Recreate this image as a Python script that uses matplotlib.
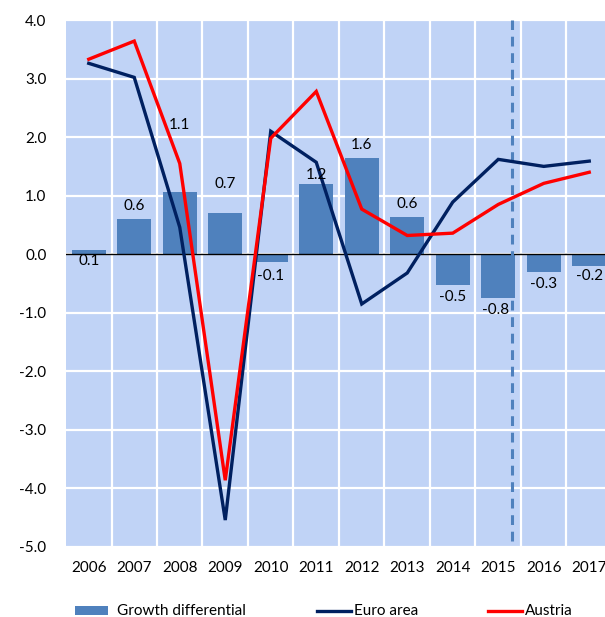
import matplotlib
matplotlib.use("Agg")
import matplotlib.pyplot as plt
import numpy as np
from matplotlib.lines import Line2D
from matplotlib.patches import Rectangle

# Real GDP growth, Austria vs. euro area
years = ["2006", "2007", "2008", "2009", "2010", "2011",
         "2012", "2013", "2014", "2015", "2016", "2017"]
growth_diff = [0.07, 0.6, 1.07, 0.7, -0.13, 1.2, 1.65, 0.63, -0.53, -0.75, -0.3, -0.2]
diff_labels = ["0.1", "0.6", "1.1", "0.7", "-0.1", "1.2", "1.6", "0.6", "-0.5", "-0.8", "-0.3", "-0.2"]
euro_area = [3.26, 3.02, 0.46, -4.54, 2.10, 1.57, -0.85, -0.32, 0.89, 1.62, 1.50, 1.59]
austria = [3.33, 3.64, 1.55, -3.86, 1.98, 2.78, 0.77, 0.32, 0.36, 0.85, 1.21, 1.40]

# where each bar label sits (data units), the chart nudges a few of them
label_y = [-0.12, 0.83, 2.2, 1.2, -0.37, 1.35, 1.87, 0.85, -0.73, -0.95, -0.5, -0.37]
label_dx = [0, 0, 0, 0, 0, 0, 0, 0, 0, -0.05, 0, 0]
forecast_x = 9.3  # dashed line between actuals and forecast

BG = "#c0d3f6"
BAR = "#4f81bd"
NAVY = "#002060"
RED = "#ff0000"
FONT = "Lato"

plt.rcParams["font.family"] = [FONT, "DejaVu Sans"]

W, H = 605, 617
fig = plt.figure(figsize=(W / 100, H / 100), dpi=100)
ax = fig.add_axes([66 / W, 1 - 547 / H, 546 / W, 527 / H])
ax.set_facecolor(BG)

x = np.arange(len(years))
ax.set_xlim(-0.5, len(years) - 0.5)
ax.set_ylim(-5, 4)

for yv in range(-5, 5):
  ax.axhline(yv, color="white", lw=1.6, zorder=1)
for xv in np.arange(0.5, len(years) - 0.5, 1.0):
  ax.axvline(xv, color="white", lw=1.6, zorder=1)

ax.bar(x, growth_diff, width=0.75, color=BAR, zorder=2)
ax.axhline(0, color="black", lw=1.0, zorder=3)

ax.plot([forecast_x, forecast_x], [-4.9, 4], color=BAR, lw=2.2,
        linestyle=(0, (3.2, 2.2)), zorder=3)

ax.plot(x, euro_area, color=NAVY, lw=2.4, zorder=4, solid_joinstyle="miter")
ax.plot(x, austria, color=RED, lw=2.4, zorder=5, solid_joinstyle="miter")

for i, lab in enumerate(diff_labels):
  ax.text(x[i] + label_dx[i], label_y[i], lab, ha="center", va="center",
          fontsize=11, color="black", zorder=6)

ax.set_xticks(x)
ax.set_xticklabels(years)
ax.set_yticks(range(-5, 5))
ax.set_yticklabels([f"{v:.1f}" for v in range(-5, 5)])
ax.tick_params(length=0, labelsize=11, colors="black")
ax.tick_params(axis="x", pad=10)
ax.tick_params(axis="y", pad=14)
for s in ax.spines.values():
  s.set_visible(False)

# legend at the bottom, drawn in pixel coordinates
def px(xp, yp):
  return xp / W, 1 - yp / H

fig.add_artist(Rectangle(px(75, 615), 33 / W, 9 / H, transform=fig.transFigure,
                         color=BAR, lw=0))
fig.text(*px(117, 611), "Growth differential", fontsize=11, va="center")
fig.add_artist(Line2D([317 / W, 351 / W], [1 - 611 / H] * 2, transform=fig.transFigure,
                      color=NAVY, lw=2.4))
fig.text(*px(354, 611), "Euro area", fontsize=11, va="center")
fig.add_artist(Line2D([488 / W, 522 / W], [1 - 611 / H] * 2, transform=fig.transFigure,
                      color=RED, lw=2.4))
fig.text(*px(525, 611), "Austria", fontsize=11, va="center")

fig.savefig("out.png", dpi=100, facecolor="white")
